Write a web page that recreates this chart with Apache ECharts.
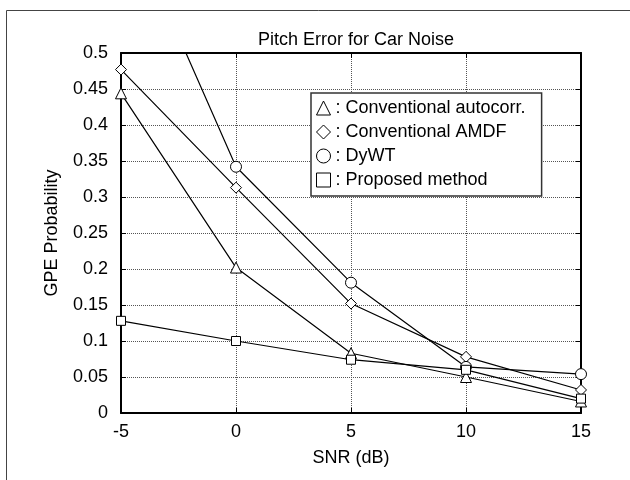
<!DOCTYPE html>
<html>
<head>
<meta charset="utf-8">
<script src="https://cdn.jsdelivr.net/npm/echarts@6/dist/echarts.min.js"></script>
<style>
  html, body { margin: 0; padding: 0; background: #fff; }
  #chart { width: 630px; height: 480px; }
</style>
</head>
<body>
<div id="chart"></div>
<script>
const snr = [-5, 0, 5, 10, 15]
const autocorr = [0.444, 0.202, 0.083, 0.050, 0.016]
const amdf = [0.477, 0.313, 0.152, 0.078, 0.032]
const dywt = [0.705, 0.342, 0.181, 0.064, 0.054]
const proposed = [0.128, 0.100, 0.074, 0.060, 0.020]

const seriesNames = ['Conventional autocorr.', 'Conventional AMDF', 'DyWT', 'Proposed method']
const seriesSymbols = ['triangle', 'diamond', 'circle', 'rect']
const seriesSizes = [11, 11, 11, 9]
const seriesValues = [autocorr, amdf, dywt, proposed]

const font = 'Arial, "Liberation Sans", sans-serif'

function makeSeries (i) {
  return {
    name: seriesNames[i],
    type: 'line',
    symbol: seriesSymbols[i],
    symbolSize: seriesSizes[i],
    showAllSymbol: true,
    clip: true,
    data: snr.map((x, j) => [x, seriesValues[i][j]]),
    itemStyle: { color: '#fff', borderColor: '#000', borderWidth: 1 },
    lineStyle: { color: '#000', width: 1.2 },
    emphasis: { disabled: true }
  }
}

const chart = echarts.init(document.getElementById('chart'), null, { renderer: 'canvas' })

// top and right axes only repeat the frame and the inward ticks
const mirrorAxis = {
  axisLine: { show: true, onZero: false, lineStyle: { color: '#000', width: 2 } },
  axisTick: { show: true, inside: true, length: 5, lineStyle: { color: '#000' } },
  axisLabel: { show: false },
  splitLine: { show: false }
}

const option = {
  animation: false,
  backgroundColor: '#fff',
  title: {
    text: 'Pitch Error for Car Noise',
    left: 351,
    textAlign: 'center',
    top: 26,
    textStyle: { fontFamily: font, fontSize: 18, fontWeight: 'normal', color: '#000' }
  },
  graphic: [{
    type: 'rect',
    shape: { x: 6.5, y: 10.5, width: 800, height: 600 },
    style: { fill: null, stroke: '#444', lineWidth: 1 },
    silent: true
  }],
  grid: { left: 121, right: 49, top: 53, bottom: 67 },
  legend: {
    orient: 'vertical',
    left: 311,
    top: 93,
    padding: [6, 16, 7, 5],
    itemGap: 6,
    itemWidth: 14,
    itemHeight: 14,
    backgroundColor: '#fff',
    borderColor: '#333',
    borderWidth: 1.5,
    borderRadius: 0,
    selectedMode: false,
    itemStyle: { color: '#fff', borderColor: '#000', borderWidth: 1 },
    formatter: name => ': ' + name,
    textStyle: { fontFamily: font, fontSize: 18, color: '#000' },
    data: seriesNames.map((n, i) => ({ name: n, icon: seriesSymbols[i] }))
  },
  xAxis: [{
    type: 'value',
    min: -5,
    max: 15,
    interval: 5,
    name: 'SNR (dB)',
    nameLocation: 'middle',
    nameGap: 36,
    nameTextStyle: { fontFamily: font, fontSize: 18, color: '#000' },
    axisLine: { show: true, onZero: false, lineStyle: { color: '#000', width: 2 } },
    axisTick: { show: true, inside: true, length: 5, lineStyle: { color: '#000' } },
    axisLabel: { fontFamily: font, fontSize: 18, color: '#000', margin: 10 },
    splitLine: { show: true, lineStyle: { type: 'dotted', color: '#555', width: 1 } }
  }, Object.assign({ type: 'value', position: 'top', min: -5, max: 15, interval: 5 }, mirrorAxis)],
  yAxis: [{
    type: 'value',
    min: 0,
    max: 0.5,
    interval: 0.05,
    name: 'GPE Probability',
    nameLocation: 'middle',
    nameGap: 60,
    nameTextStyle: { fontFamily: font, fontSize: 18, color: '#000' },
    axisLine: { show: true, onZero: false, lineStyle: { color: '#000', width: 2 } },
    axisTick: { show: true, inside: true, length: 5, lineStyle: { color: '#000' } },
    axisLabel: { fontFamily: font, fontSize: 18, color: '#000', margin: 13 },
    splitLine: { show: true, lineStyle: { type: 'dotted', color: '#555', width: 1 } }
  }, Object.assign({ type: 'value', position: 'right', min: 0, max: 0.5, interval: 0.05 }, mirrorAxis)],
  series: seriesNames.map((n, i) => makeSeries(i))
}

chart.setOption(option)
window.addEventListener('resize', chart.resize)
</script>
</body>
</html>
